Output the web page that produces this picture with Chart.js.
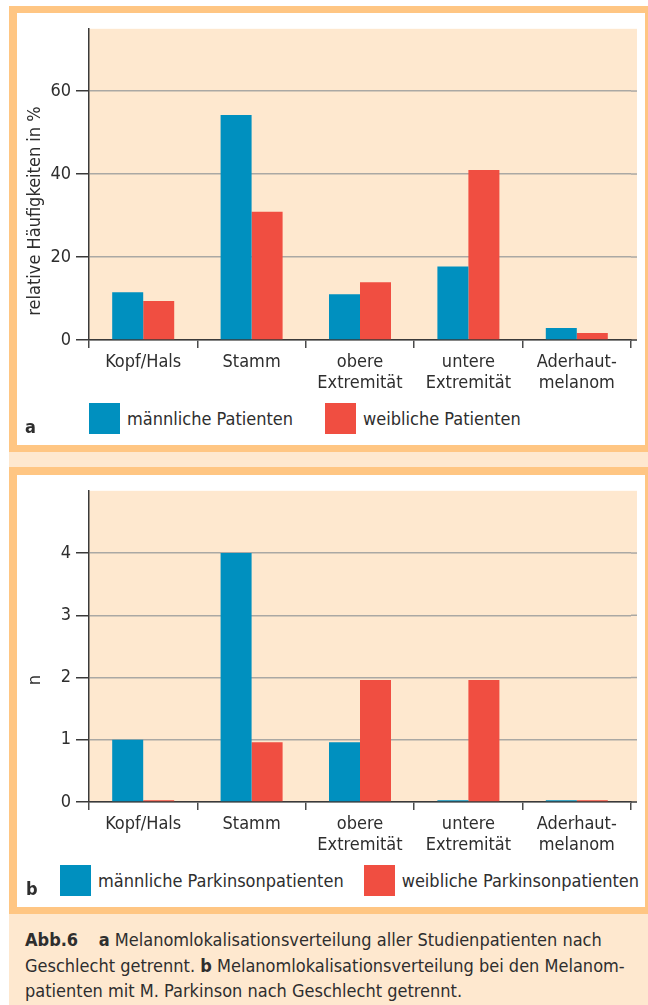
<!DOCTYPE html>
<html lang="de">
<head>
<meta charset="utf-8">
<title>Melanomlokalisationsverteilung</title>
<script src="https://cdn.jsdelivr.net/npm/chart.js@4.4.1/dist/chart.umd.min.js"></script>
<style>
  html, body { margin: 0; padding: 0; background: #fff; }
  body {
    width: 648px; height: 1005px; position: relative; overflow: hidden;
    font-family: "DejaVu Sans Condensed", "Liberation Sans", sans-serif;
    color: #2e2e2e;
  }
  .figure { position: absolute; left: 9px; top: 6px; width: 650px; height: 1005px; background: #fee8cf; }
  .panel {
    position: absolute; left: 9px; width: 644px; box-sizing: border-box;
    border: 8px solid #ffc683; border-top-width: 7px; border-bottom-width: 7px; background: #fff;
  }
  #panelA { top: 6px; height: 446px; }
  #panelB { top: 467px; height: 447px; border-top-width: 8px; }
  .chartbox { position: absolute; left: 17px; width: 628px; height: 387px; }
  #boxA { top: 13px; }
  #boxB { top: 475px; }
  .ytitle {
    position: absolute; font-size: 18px; white-space: nowrap;
    transform: translate(-50%, -50%) rotate(-90deg);
  }
  .legend { position: absolute; display: flex; align-items: center; font-size: 18px; white-space: nowrap; }
  .legend .item { display: flex; align-items: center; }
  .legend .swatch { width: 31px; height: 31px; margin-right: 7px; }
  .tag { position: absolute; font-weight: bold; font-size: 18px; line-height: 18px; }
  .caption {
    position: absolute; left: 25px; top: 927px; width: 615px;
    font-size: 18px; line-height: 25.5px; color: #2e2e2e; white-space: nowrap;
  }
  .caption b { font-weight: bold; }
</style>
</head>
<body>
<div class="figure"></div>
<div class="panel" id="panelA"></div>
<div class="panel" id="panelB"></div>

<div class="chartbox" id="boxA"><canvas id="chartA"></canvas></div>
<div class="ytitle" id="titleA" style="left:33px; top:211px;"></div>
<div class="legend" id="legendA" style="left:89px; top:403px; height:31px;"></div>
<div class="tag" style="left:25px; top:418px;">a</div>

<div class="chartbox" id="boxB"><canvas id="chartB"></canvas></div>
<div class="ytitle" id="titleB" style="left:33px; top:680px;"></div>
<div class="legend" id="legendB" style="left:60px; top:865px; height:31px;"></div>
<div class="tag" style="left:26px; top:880px;">b</div>

<div class="caption">
  <b>Abb.6</b>&nbsp;&nbsp;&nbsp; <b>a</b> Melanomlokalisationsverteilung aller Studienpatienten nach<br>
  Geschlecht getrennt. <b>b</b> Melanomlokalisationsverteilung bei den Melanom-<br>
  patienten mit M. Parkinson nach Geschlecht getrennt.
</div>

<script>
// Body sites (two-line labels as arrays)
const categories = ['Kopf/Hals', 'Stamm', ['obere', 'Extremität'], ['untere', 'Extremität'], ['Aderhaut-', 'melanom']];

// a: relative frequencies in %
const maleAll   = [11.5, 54.2, 11.0, 17.7, 2.9];
const femaleAll = [9.4, 30.9, 13.9, 41.0, 1.7];
const ticksA    = [0, 20, 40, 60];

// b: counts among patients with Parkinson's disease
const maleParkinson   = [1, 4, 0.96, 0.03, 0.03];
const femaleParkinson = [0.03, 0.96, 1.96, 1.96, 0.03];
const ticksB          = [0, 1, 2, 3, 4];

const COLOR_MALE = '#0090bf';
const COLOR_FEMALE = '#f04e41';
const FONT_FAMILY = '"DejaVu Sans Condensed", "Liberation Sans", sans-serif';
const FONT_SIZE = 18;
const TEXT = '#2e2e2e';

// Peach plot backdrop; it runs a few pixels past the last category boundary,
// so the grid lines and the baseline are continued over that strip as well.
const plotBackdrop = {
  id: 'plotBackdrop',
  beforeDraw(chart, args, opts) {
    const { ctx, chartArea: a } = chart;
    ctx.save();
    ctx.fillStyle = opts.color;
    ctx.fillRect(a.left, a.top, a.right - a.left + opts.extend, a.bottom - a.top);
    ctx.restore();
  },
  beforeDatasetsDraw(chart, args, opts) {
    const { ctx, chartArea: a, scales: { y } } = chart;
    ctx.save();
    ctx.strokeStyle = opts.gridColor;
    ctx.lineWidth = opts.gridWidth;
    y.ticks.forEach(t => {
      if (t.value === 0) return;
      const py = y.getPixelForValue(t.value);
      ctx.beginPath(); ctx.moveTo(a.right, py); ctx.lineTo(a.right + opts.extend, py); ctx.stroke();
    });
    ctx.strokeStyle = opts.axisColor;
    ctx.lineWidth = opts.axisWidth;
    ctx.beginPath(); ctx.moveTo(a.right, a.bottom); ctx.lineTo(a.right + opts.extend, a.bottom); ctx.stroke();
    ctx.restore();
  }
};

function makeChart(canvasId, maleData, femaleData, maleLabel, femaleLabel, yMax, yTicks) {
  return new Chart(document.getElementById(canvasId), {
    type: 'bar',
    data: {
      labels: categories,
      datasets: [
        { label: maleLabel, data: maleData, backgroundColor: COLOR_MALE },
        { label: femaleLabel, data: femaleData, backgroundColor: COLOR_FEMALE }
      ]
    },
    options: {
      responsive: true,
      maintainAspectRatio: false,
      animation: false,
      devicePixelRatio: 1,
      layout: { padding: { top: 11, right: 14, bottom: 0, left: 0 } },
      datasets: { bar: { barPercentage: 1, categoryPercentage: 0.572, borderWidth: 0 } },
      plugins: {
        legend: { display: false },
        tooltip: { enabled: false },
        plotBackdrop: {
          color: '#fee8cf', extend: 6,
          gridColor: '#aaa8a4', gridWidth: 1.5,
          axisColor: '#3a3a3a', axisWidth: 1.5
        }
      },
      scales: {
        x: {
          afterFit(scale) { scale.height = 60; },
          border: { display: true, color: '#3a3a3a', width: 1.5 },
          grid: {
            display: true, drawOnChartArea: false, drawTicks: true, offset: true,
            tickLength: 8, tickColor: '#4a4a4a', lineWidth: 1.5
          },
          ticks: {
            color: TEXT, padding: 4, maxRotation: 0, autoSkip: false,
            font: { family: FONT_FAMILY, size: FONT_SIZE, lineHeight: 1.17 }
          }
        },
        y: {
          min: 0, max: yMax,
          afterFit(scale) { scale.width = 72; },
          afterBuildTicks(scale) { scale.ticks = yTicks.map(v => ({ value: v })); },
          border: { display: true, color: '#3a3a3a', width: 1.5 },
          grid: {
            color: '#aaa8a4', lineWidth: 1.5, drawTicks: true,
            tickLength: 13, tickColor: '#3a3a3a'
          },
          ticks: {
            color: TEXT, padding: 5,
            font: { family: FONT_FAMILY, size: FONT_SIZE }
          }
        }
      }
    },
    plugins: [plotBackdrop]
  });
}

function buildLegend(chart, containerId, gap) {
  const box = document.getElementById(containerId);
  chart.data.datasets.forEach((ds, i) => {
    const item = document.createElement('div');
    item.className = 'item';
    if (i > 0) item.style.marginLeft = gap + 'px';
    const sw = document.createElement('span');
    sw.className = 'swatch';
    sw.style.background = ds.backgroundColor;
    const tx = document.createElement('span');
    tx.textContent = ds.label;
    item.appendChild(sw); item.appendChild(tx);
    box.appendChild(item);
  });
}

const chartA = makeChart('chartA', maleAll, femaleAll, 'männliche Patienten', 'weibliche Patienten', 75, ticksA);
const chartB = makeChart('chartB', maleParkinson, femaleParkinson, 'männliche Parkinsonpatienten', 'weibliche Parkinsonpatienten', 5, ticksB);
document.getElementById('titleA').textContent = 'relative Häufigkeiten in %';
document.getElementById('titleB').textContent = 'n';
buildLegend(chartA, 'legendA', 32);
buildLegend(chartB, 'legendB', 20);
</script>
</body>
</html>
